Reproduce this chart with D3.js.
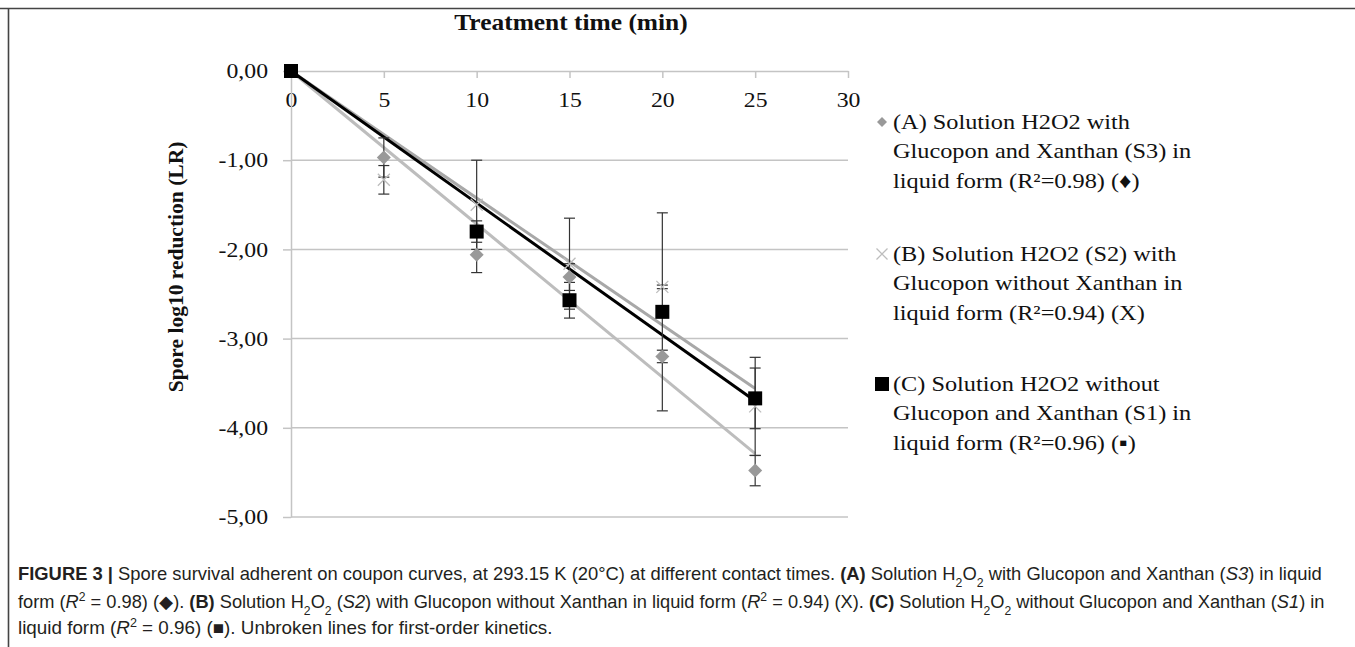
<!DOCTYPE html>
<html lang="en">
<head>
<meta charset="UTF-8">
<title>Spore survival</title>
<script src="https://cdn.jsdelivr.net/npm/d3@7"></script>
<style>
body{margin:0;background:#fff}
svg{display:block}
.serif{font-family:"Liberation Serif","Times New Roman",serif;fill:#111}
.cap{font-family:"Liberation Sans",Arial,sans-serif;fill:#231f20}
</style>
</head>
<body>
<div id="chart"></div>
<script>
// data
var times=[0,5,10,15,20,25]
var serieA=[0,-0.97,-2.06,-2.31,-3.20,-4.48]   // diamonds
var errA=[0,0.22,0.20,0.15,0.07,0.17]
var serieB=[0,-1.22,-1.50,-2.16,-2.42,-3.76]   // crosses
var errB=[0,0.16,0.50,0.51,0.02,0.55]
var serieC=[0,null,-1.80,-2.57,-2.70,-3.67]    // squares
var errC=[0,null,0.12,0.20,1.11,0.34]
// trend lines (start, end) as seen on the chart
var trendA=[[0,0],[25,-4.29]]
var trendB=[[0,0],[25,-3.56]]
var trendC=[[0,0],[25,-3.70]]
var xTicks=[0,5,10,15,20,25,30]
var yTicks=[0,-1,-2,-3,-4,-5]
var legendA=['(A) Solution H2O2 with','Glucopon and Xanthan (S3) in','liquid  form (R\u00b2=0.98) (\u2666)']
var legendB=['(B) Solution H2O2 (S2) with','Glucopon without Xanthan in','liquid form (R\u00b2=0.94) (X)']
var legendC=['(C) Solution H2O2 without','Glucopon and Xanthan (S1) in','liquid  form (R\u00b2=0.96) (\u25aa)']
var captionLines=[
 [['FIGURE 3 |','b'],[' Spore survival adherent on coupon curves, at 293.15 K (20\u00b0C) at different contact times. ',''],['(A)','b'],[' Solution H',''],['2','sub'],['O',''],['2','sub'],[' with Glucopon and Xanthan (',''],['S3','i'],[') in liquid','']],
 [['form (',''],['R','i'],['2','sup'],[' = 0.98) (\u25c6). ',''],['(B)','b'],[' Solution H',''],['2','sub'],['O',''],['2','sub'],[' (',''],['S2','i'],[') with Glucopon without Xanthan in liquid form (',''],['R','i'],['2','sup'],[' = 0.94) (X). ',''],['(C)','b'],[' Solution H',''],['2','sub'],['O',''],['2','sub'],[' without Glucopon and Xanthan (',''],['S1','i'],[') in','']],
 [['liquid form (',''],['R','i'],['2','sup'],[' = 0.96) (\u25a0). Unbroken lines for first-order kinetics.','']]
]
var captionWidths=[1304,1308,535]

var W=1355,H=647
var stretch=1.13
var svg=d3.select('#chart').append('svg').attr('width',W).attr('height',H)

// frame
svg.append('line').attr('x1',0).attr('x2',W).attr('y1',8.5).attr('y2',8.5).attr('stroke','#444').attr('stroke-width',1.6)
svg.append('line').attr('x1',8.5).attr('x2',8.5).attr('y1',8).attr('y2',H).attr('stroke','#444').attr('stroke-width',1.6)

var x=d3.scaleLinear().domain([0,30]).range([291,848])
var y=d3.scaleLinear().domain([0,-5]).range([71,517])
var grey='#c4c4c4'

// horizontal gridlines
svg.append('g').selectAll('line').data(yTicks.slice(1)).enter().append('line')
	.attr('x1',x(0)).attr('x2',x(30))
	.attr('y1',function(d){return y(d)}).attr('y2',function(d){return y(d)})
	.attr('stroke',grey).attr('stroke-width',1.5)

// x axis (on top, labels below)
var gx=svg.append('g').attr('transform','translate(0,'+y(0)+')')
	.call(d3.axisBottom(x).tickValues(xTicks).tickSize(7).tickSizeOuter(0).tickPadding(14))
gx.select('.domain').attr('stroke',grey).attr('stroke-width',1.5)
gx.selectAll('.tick line').attr('stroke',grey).attr('stroke-width',1.5)
gx.selectAll('text').attr('class','serif stretch').style('font-size','21px').attr('fill','#111')

// y axis
var gy=svg.append('g').attr('transform','translate('+x(0)+',0)')
	.call(d3.axisLeft(y).tickValues(yTicks).tickSize(8).tickSizeOuter(0).tickPadding(15)
		.tickFormat(function(d){return d3.format('.2f')(d).replace('.',',').replace('\u2212','-')}))
gy.select('.domain').attr('stroke',grey).attr('stroke-width',1.5)
gy.selectAll('.tick line').attr('stroke',grey).attr('stroke-width',1.5)
gy.selectAll('text').attr('class','serif stretch').style('font-size','21px').attr('fill','#111')

// titles
svg.append('text').attr('class','serif stretch').attr('x',571).attr('y',30)
	.attr('text-anchor','middle').style('font-size','22.5px').style('font-weight','bold').text('Treatment time (min)')
svg.append('text').attr('class','serif').attr('transform','translate(183,267) rotate(-90)')
	.attr('text-anchor','middle').style('font-size','21.5px').style('font-weight','bold').text('Spore log10 reduction (LR)')

// trend lines
var line=d3.line().x(function(d){return x(d[0])}).y(function(d){return y(d[1])})
svg.append('path').datum(trendA).attr('d',line).attr('fill','none').attr('stroke','#bdbdbd').attr('stroke-width',3)
svg.append('path').datum(trendB).attr('d',line).attr('fill','none').attr('stroke','#a8a8a8').attr('stroke-width',3)
svg.append('path').datum(trendC).attr('d',line).attr('fill','none').attr('stroke','#000').attr('stroke-width',3)

function pts(vals,errs){
	var out=[]
	times.forEach(function(t,i){ if(vals[i]!=null) out.push({t:t,v:vals[i],e:errs[i]}) })
	return out
}
var pA=pts(serieA,errA),pB=pts(serieB,errB),pC=pts(serieC,errC)

// error bars
function errorBars(data){
	var g=svg.append('g').attr('stroke','#333').attr('stroke-width',1.2)
	data.forEach(function(d){
		if(!d.e) return
		var cx=x(d.t)
		g.append('line').attr('x1',cx).attr('x2',cx).attr('y1',y(d.v+d.e)).attr('y2',y(d.v-d.e))
		g.append('line').attr('x1',cx-5.5).attr('x2',cx+5.5).attr('y1',y(d.v+d.e)).attr('y2',y(d.v+d.e))
		g.append('line').attr('x1',cx-5.5).attr('x2',cx+5.5).attr('y1',y(d.v-d.e)).attr('y2',y(d.v-d.e))
	})
}
errorBars(pA);errorBars(pB);errorBars(pC)

// markers
function diamond(g,cx,cy,r){ g.append('path').attr('d','M'+cx+','+(cy-r)+'L'+(cx+r)+','+cy+'L'+cx+','+(cy+r)+'L'+(cx-r)+','+cy+'Z').attr('fill','#999') }
function cross(g,cx,cy,r){ g.append('path').attr('d','M'+(cx-r)+','+(cy-r)+'L'+(cx+r)+','+(cy+r)+'M'+(cx+r)+','+(cy-r)+'L'+(cx-r)+','+(cy+r)).attr('stroke','#bdbdbd').attr('stroke-width',1.3).attr('fill','none') }
function square(g,cx,cy,r){ g.append('rect').attr('x',cx-r).attr('y',cy-r).attr('width',2*r).attr('height',2*r).attr('fill','#000') }
var gm=svg.append('g')
pB.forEach(function(d){cross(gm,x(d.t),y(d.v),6)})
pA.forEach(function(d){diamond(gm,x(d.t),y(d.v),7)})
pC.forEach(function(d){square(gm,x(d.t),y(d.v),7)})

// legend
var gl=svg.append('g')
function legendBlock(lines,top,mark){
	mark(gl,882,top,1)
	lines.forEach(function(s,i){
		gl.append('text').attr('class','serif stretch').attr('x',893).attr('y',top+7+i*29.3)
			.style('font-size','21.5px').text(s)
	})
}
legendBlock(legendA,122,function(g,cx,cy){diamond(g,cx,cy,5)})
legendBlock(legendB,254,function(g,cx,cy){cross(g,cx,cy,5.5)})
legendBlock(legendC,384,function(g,cx,cy){square(g,cx,cy,7)})

// widen serif texts like the scanned figure
svg.selectAll('text.stretch').each(function(){
	var w=this.getComputedTextLength()
	d3.select(this).attr('textLength',w*stretch).attr('lengthAdjust','spacingAndGlyphs')
})

// caption (condensed face: taller letters squeezed to the line width)
var capY=[580,608,634]
captionLines.forEach(function(parts,i){
	var t=svg.append('text').attr('class','cap').style('font-size','18px')
	parts.forEach(function(p){
		var ts=t.append('tspan').text(p[0])
		if(p[1]=='b') ts.style('font-weight','bold')
		if(p[1]=='i') ts.style('font-style','italic')
		if(p[1]=='sub') ts.attr('baseline-shift','sub').style('font-size','12px')
		if(p[1]=='sup') ts.attr('baseline-shift','super').style('font-size','12px')
	})
	var bw=t.node().getBBox().width
	t.attr('transform','translate(18,'+capY[i]+') scale('+(captionWidths[i]/bw)+',1)')
})
</script>
</body>
</html>
